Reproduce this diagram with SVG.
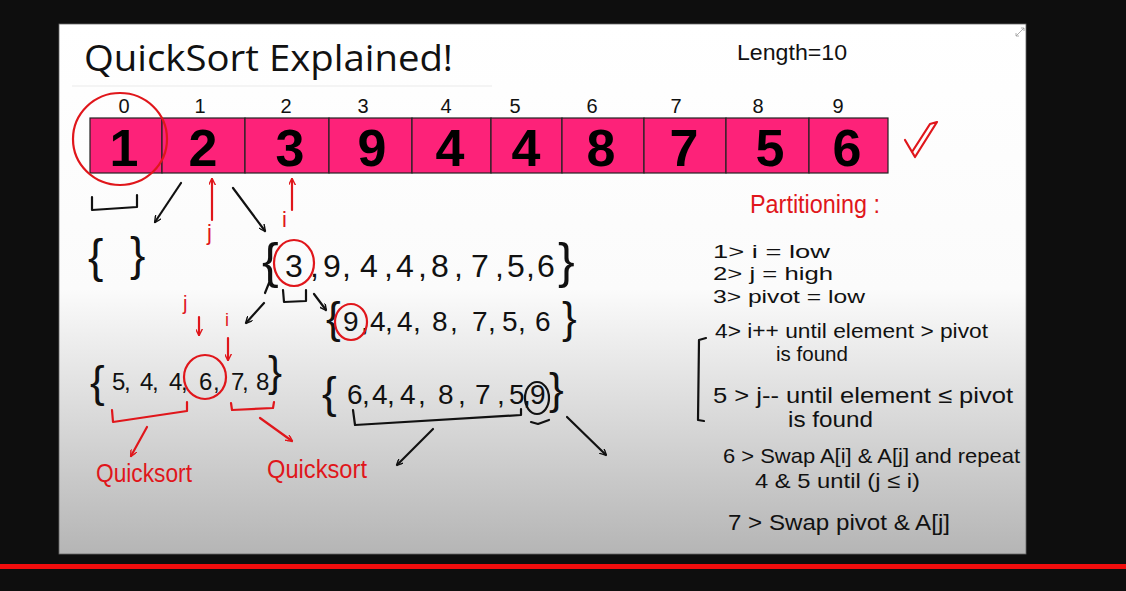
<svg xmlns="http://www.w3.org/2000/svg" width="1126" height="591" viewBox="0 0 1126 591">
<style>
.hw{font-family:"Liberation Sans",Arial,sans-serif;fill:#111}
.hr{font-family:"Liberation Sans",Arial,sans-serif;fill:#e0161b}
.ln{fill:none;stroke:#111;stroke-width:2.2;stroke-linecap:round;stroke-linejoin:round}
.lr{fill:none;stroke:#e0161b;stroke-width:2.2;stroke-linecap:round;stroke-linejoin:round}
.cell{fill:#fd2279;stroke:#222;stroke-width:1.2}
.num{font-family:"Liberation Sans",Arial,sans-serif;font-weight:bold;font-size:52px;fill:#000;text-anchor:middle}
.idx{font-family:"Liberation Sans",Arial,sans-serif;font-size:20px;fill:#111;text-anchor:middle}
</style>
<defs>
<linearGradient id="bg" x1="0" y1="0" x2="0" y2="1">
<stop offset="0" stop-color="#ffffff"/>
<stop offset="0.5" stop-color="#fbfbfb"/>
<stop offset="1" stop-color="#b5b5b5"/>
</linearGradient>
<marker id="ab" viewBox="0 0 10 10" refX="9" refY="5" markerWidth="7" markerHeight="7" orient="auto" markerUnits="userSpaceOnUse"><path d="M0,0 L10,5 L0,10" fill="none" stroke="#111" stroke-width="2"/></marker>
<marker id="ar" viewBox="0 0 10 10" refX="9" refY="5" markerWidth="7" markerHeight="7" orient="auto" markerUnits="userSpaceOnUse"><path d="M0,0 L10,5 L0,10" fill="none" stroke="#e0161b" stroke-width="2"/></marker>
</defs>
<rect x="0" y="0" width="1126" height="591" fill="#0e0e0e"/>
<g id="slide">
<rect x="59" y="24" width="967" height="530" fill="url(#bg)" stroke="#666" stroke-width="0.8"/>
<path d="M1016,36 L1024,28 M1016,36 l0,-3 M1016,36 l3,0 M1024,28 l-3,0 M1024,28 l0,3" stroke="#999" stroke-width="0.8" fill="none"/>
</g>
<rect x="0" y="564" width="1126" height="5" fill="#f20d0d"/>
<g id="title">
<text x="84" y="71" font-family="'Open Sans','Liberation Sans',sans-serif" font-size="36" fill="#111" textLength="369" lengthAdjust="spacingAndGlyphs">QuickSort Explained!</text>
<line x1="72" y1="86" x2="492" y2="86" stroke="#eaeaea" stroke-width="1.2"/>
</g>
<g id="length"><text class="hw" x="737" y="60" font-size="22" textLength="110" lengthAdjust="spacingAndGlyphs">Length=10</text></g>
<g id="array">
<rect class="cell" x="90" y="118" width="72" height="55"/>
<rect class="cell" x="162" y="118" width="83" height="55"/>
<rect class="cell" x="245" y="118" width="84" height="55"/>
<rect class="cell" x="329" y="118" width="83" height="55"/>
<rect class="cell" x="412" y="118" width="79" height="55"/>
<rect class="cell" x="491" y="118" width="71" height="55"/>
<rect class="cell" x="562" y="118" width="82" height="55"/>
<rect class="cell" x="644" y="118" width="82" height="55"/>
<rect class="cell" x="726" y="118" width="83" height="55"/>
<rect class="cell" x="809" y="118" width="79" height="55"/>
<text class="num" x="124" y="166">1</text>
<text class="num" x="203" y="166">2</text>
<text class="num" x="290" y="166">3</text>
<text class="num" x="372" y="166">9</text>
<text class="num" x="450" y="166">4</text>
<text class="num" x="526" y="166">4</text>
<text class="num" x="601" y="166">8</text>
<text class="num" x="684" y="166">7</text>
<text class="num" x="770" y="166">5</text>
<text class="num" x="847" y="166">6</text>
<text class="idx" x="124" y="113">0</text>
<text class="idx" x="200" y="113">1</text>
<text class="idx" x="286" y="113">2</text>
<text class="idx" x="363" y="113">3</text>
<text class="idx" x="446" y="113">4</text>
<text class="idx" x="515" y="113">5</text>
<text class="idx" x="592" y="113">6</text>
<text class="idx" x="676" y="113">7</text>
<text class="idx" x="758" y="113">8</text>
<text class="idx" x="838" y="113">9</text>
<ellipse cx="120" cy="139" rx="47" ry="46" class="lr"/>
<path class="lr" d="M905,140 L915,157 L937,122 L930,124 L912,152"/>
</g>
<g id="empty-set">
<text class="hw" x="88" y="272" font-size="46">{</text>
<text class="hw" x="130" y="270" font-size="46">}</text>
</g>
<g id="row-a">
<text class="hw" x="262" y="278" font-size="50">{</text>
<text class="hw" font-size="32" y="277" x="285 310 323 342 360 384 396 418 431 454 471 495 507 526 537">3,9,4,4,8,7,5,6</text>
<text class="hw" x="558" y="278" font-size="50">}</text>
<ellipse cx="294" cy="263" rx="20" ry="23" class="lr"/>
<text class="hr" x="282" y="227" font-size="22">i</text>
</g>
<g id="row-b">
<text class="hw" x="326" y="333" font-size="44">{</text>
<text class="hw" font-size="28" y="331" x="343 361 370 385 397 413 432 450 472 488 502 518 535">9,4,4,8,7,5,6</text>
<text class="hw" x="562" y="333" font-size="44">}</text>
<ellipse cx="351" cy="322" rx="16" ry="18" class="lr"/>
</g>
<g id="row-c">
<text class="hw" x="90" y="397" font-size="44">{</text>
<text class="hw" font-size="24" y="390" x="112 124 140 152 169 181 199 213 231 242 256">5,4,4,6,7,8</text>
<text class="hw" x="268" y="386" font-size="42">}</text>
<ellipse cx="205" cy="377" rx="21" ry="22" class="lr"/>
<text class="hr" x="183" y="310" font-size="20">j</text>
<text class="hr" x="225" y="326" font-size="18">i</text>
</g>
<g id="row-d">
<text class="hw" x="322" y="408" font-size="44">{</text>
<text class="hw" font-size="28" y="404" x="347 362 372 387 400 418 438 458 475 497 509 523 530">6,4,4,8,7,5,9</text>
<text class="hw" x="549" y="404" font-size="44">}</text>
<ellipse cx="537" cy="398" rx="12" ry="16" class="ln"/>
</g>
<g id="quicksort-left"><text class="hr" x="96" y="482" font-size="26" textLength="96" lengthAdjust="spacingAndGlyphs">Quicksort</text></g>
<g id="quicksort-right"><text class="hr" x="267" y="478" font-size="26" textLength="100" lengthAdjust="spacingAndGlyphs">Quicksort</text></g>
<g id="partitioning">
<text class="hr" x="750" y="213" font-size="26" textLength="130" lengthAdjust="spacingAndGlyphs">Partitioning :</text>
<text class="hw" x="713" y="258" font-size="19" textLength="117" lengthAdjust="spacingAndGlyphs">1&gt;  i = low</text>
<text class="hw" x="713" y="280" font-size="19" textLength="120" lengthAdjust="spacingAndGlyphs">2&gt;  j = high</text>
<text class="hw" x="713" y="303" font-size="19" textLength="152" lengthAdjust="spacingAndGlyphs">3&gt;  pivot = low</text>
<text class="hw" x="715" y="338" font-size="20" textLength="273" lengthAdjust="spacingAndGlyphs">4&gt;  i++ until element &gt; pivot</text>
<text class="hw" x="776" y="361" font-size="20" textLength="72" lengthAdjust="spacingAndGlyphs">is found</text>
<text class="hw" x="713" y="403" font-size="22" textLength="300" lengthAdjust="spacingAndGlyphs">5 &gt;  j-- until element ≤ pivot</text>
<text class="hw" x="788" y="427" font-size="22" textLength="85" lengthAdjust="spacingAndGlyphs">is found</text>
<text class="hw" x="723" y="463" font-size="21" textLength="297" lengthAdjust="spacingAndGlyphs">6 &gt; Swap A[i] &amp; A[j] and repeat</text>
<text class="hw" x="755" y="488" font-size="21" textLength="165" lengthAdjust="spacingAndGlyphs">4 &amp; 5 until (j ≤ i)</text>
<text class="hw" x="728" y="530" font-size="22" textLength="222" lengthAdjust="spacingAndGlyphs">7 &gt; Swap pivot &amp; A[j]</text>
<path class="ln" d="M706,338 L699,340 L698,420 L704,421"/>
</g>
<g id="connectors">
<path class="ln" d="M92,197 L92,210 L137,207 L137,195"/>
<path class="ln" d="M181,183 L155,222" marker-end="url(#ab)"/>
<path class="ln" d="M233,188 L265,231" marker-end="url(#ab)"/>
<path class="lr" d="M212,220 L212,179" marker-end="url(#ar)"/>
<text class="hr" x="207" y="240" font-size="22">j</text>
<path class="lr" d="M292,210 L292,179" marker-end="url(#ar)"/>
<path class="ln" d="M269,283 L265,293"/>
<path class="ln" d="M264,303 L246,323" marker-end="url(#ab)"/>
<path class="ln" d="M283,290 L284,302 L306,301 L306,290"/>
<path class="ln" d="M314,294 L326,310" marker-end="url(#ab)"/>
<path class="lr" d="M199,317 L199,335" marker-end="url(#ar)"/>
<path class="lr" d="M228,338 L228,360" marker-end="url(#ar)"/>
<path class="lr" d="M112,410 L113,422 L187,411 L187,402"/>
<path class="lr" d="M231,403 L232,410 L273,408 L274,402"/>
<path class="lr" d="M147,427 L131,456" marker-end="url(#ar)"/>
<path class="lr" d="M260,418 L292,441" marker-end="url(#ar)"/>
<path class="ln" d="M353,410 L355,425 L521,415 L521,409"/>
<path class="ln" d="M531,422 L538,424 L549,420"/>
<path class="ln" d="M433,429 L397,465" marker-end="url(#ab)"/>
<path class="ln" d="M567,417 L606,455" marker-end="url(#ab)"/>
</g>
</svg>
